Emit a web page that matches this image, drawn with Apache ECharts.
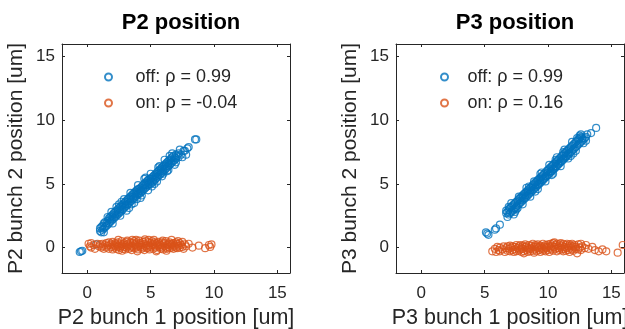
<!DOCTYPE html>
<html>
<head>
<meta charset="utf-8">
<script src="https://cdn.jsdelivr.net/npm/echarts@6/dist/echarts.min.js"></script>
<style>html,body{margin:0;padding:0;background:#fff}#c{width:625px;height:329px}</style>
</head>
<body>
<div id="c"></div>
<script>
// Tick labels (both axes, both panels)
const tickValues = [0, 5, 10, 15];
const axisMin = -2, axisMax = 16;

// Panel titles / axis names / legend labels
const titles = ['P2 position', 'P3 position'];
const xNames = ['P2 bunch 1 position [um]', 'P3 bunch 1 position [um]'];
const yNames = ['P2 bunch 2 position [um]', 'P3 bunch 2 position [um]'];
const legendP2 = ['off: \u03c1 = 0.99', 'on: \u03c1 = -0.04'];
const legendP3 = ['off: \u03c1 = 0.99', 'on: \u03c1 = 0.16'];

// P2 "off": [bunch1, bunch2]
const p2Off = [
[-0.6,-0.35],[-0.5,-0.3],[-0.4,-0.25],[0.7,0.25],
[1.0,1.3],[1.0,1.5],[1.1,1.2],[1.1,1.6],[1.2,1.4],[1.2,1.7],[1.3,1.5],[1.3,1.9],[1.4,1.6],[1.4,2.0],
[1.5,1.9],[1.5,1.7],[1.6,2.1],[1.6,1.8],[1.7,1.9],[1.7,2.3],[1.8,2.0],[1.8,2.4],[1.8,2.2],[1.9,2.5],[1.9,2.1],
[2.0,2.2],[2.0,2.6],[2.0,2.4],[2.1,2.3],[2.1,2.7],[2.2,2.8],[2.2,2.4],[2.2,2.6],[2.3,2.5],[2.3,2.9],
[2.4,2.6],[2.4,3.0],[2.4,2.8],[2.5,3.1],[2.5,2.7],[2.6,2.8],[2.6,3.2],[2.6,3.0],[2.7,2.9],[2.7,3.3],
[2.8,3.4],[2.8,3.0],[2.8,3.2],[2.9,3.1],[2.9,3.5],[3.0,3.2],[3.0,3.6],[3.0,3.4],[3.1,3.7],[3.1,3.3],
[3.2,3.4],[3.2,3.8],[3.2,3.6],[3.3,3.5],[3.3,3.9],[3.4,4.0],[3.4,3.6],[3.4,3.8],[3.5,3.7],[3.5,4.1],
[3.6,3.8],[3.6,4.2],[3.6,4.0],[3.7,4.3],[3.7,3.9],[3.8,4.0],[3.8,4.4],[3.8,4.2],[3.9,4.1],[3.9,4.5],
[4.0,4.6],[4.0,4.2],[4.0,4.3],[4.1,4.2],[4.1,4.6],[4.2,4.3],[4.2,4.7],[4.2,4.5],[4.3,4.8],[4.3,4.4],
[4.4,4.5],[4.4,4.9],[4.4,4.7],[4.5,4.6],[4.5,5.0],[4.6,5.1],[4.6,4.7],[4.6,4.9],[4.7,4.8],[4.7,5.2],
[4.8,4.9],[4.8,5.3],[4.8,5.1],[4.9,5.4],[4.9,5.0],[5.0,5.0],[5.0,5.4],[5.0,5.2],[5.1,5.1],[5.1,5.5],
[5.2,5.6],[5.2,5.2],[5.2,5.4],[5.3,5.3],[5.3,5.7],[5.4,5.4],[5.4,5.8],[5.4,5.6],[5.5,5.9],[5.5,5.5],
[5.6,5.6],[5.6,6.0],[5.6,5.8],[5.7,5.7],[5.7,6.1],[5.8,6.2],[5.8,5.8],[5.8,6.0],[5.9,5.9],[5.9,6.3],
[6.0,6.0],[6.0,6.4],[6.0,6.2],[6.1,6.5],[6.1,6.1],[6.2,6.2],[6.2,6.6],[6.2,6.4],[6.3,6.3],[6.3,6.7],
[6.4,6.8],[6.4,6.4],[6.4,6.6],[6.5,6.5],[6.5,6.9],[6.6,6.6],[6.6,7.0],[6.6,6.8],[6.7,7.1],[6.7,6.7],
[6.8,6.8],[6.8,7.2],[6.9,6.9],[6.9,7.1],[7.0,7.0],[7.0,7.3],[7.1,7.2],[7.2,7.4],[7.2,7.1],[7.4,7.3],
[7.6,7.6],[7.9,7.8],[8.0,7.9],[8.5,8.5],[8.6,8.5],
[1.3,1.2],[1.6,2.4],[2.0,1.9],[2.3,3.2],[2.6,2.5],[2.9,3.8],[3.1,2.9],[3.4,4.3],[3.7,3.5],[4.0,4.9],
[4.2,3.9],[4.5,5.4],[4.8,4.5],[5.0,5.8],[5.3,5.0],[5.6,6.3],[5.9,5.6],[6.1,6.9],[6.4,6.1],[6.7,7.4],
[7.0,6.7],[7.3,7.7],[2.5,3.4],[3.5,3.4],[4.6,5.5],[5.5,5.2],[6.5,7.2],[6.9,6.5],[1.9,2.8],[3.9,3.8],
[5.1,4.8],[6.3,6.0],[7.5,7.1],[7.7,7.6],[7.8,7.3],[2.7,3.6],[4.3,4.1],[5.7,6.4],[3.3,3.1],[6.0,5.8]
];

// P2 "on"
const p2On = [
[0.1,0.3],[0.2,0.1],[0.3,0.35],[0.3,0.0],[0.5,0.2],[0.6,-0.1],[0.8,0.3],[0.9,0.1],[1.0,0.25],[1.1,0.0],
[1.2,0.3],[1.2,0.1],[1.3,-0.1],[1.4,0.2],[1.5,0.35],[1.5,0.0],[1.6,0.15],[1.7,0.4],[1.7,-0.1],[1.8,0.2],
[1.9,0.05],[1.9,0.3],[2.0,0.45],[2.0,-0.15],[2.1,0.2],[2.1,0.0],[2.2,0.35],[2.2,0.1],[2.3,-0.1],[2.3,0.25],
[2.4,0.4],[2.4,0.05],[2.5,0.15],[2.5,-0.2],[2.6,0.3],[2.6,0.0],[2.7,0.5],[2.7,0.1],[2.8,-0.1],[2.8,0.25],
[2.9,0.35],[2.9,0.05],[3.0,0.2],[3.0,-0.15],[3.1,0.45],[3.1,0.0],[3.2,0.1],[3.2,0.3],[3.3,-0.1],[3.3,0.2],
[3.4,0.4],[3.4,0.0],[3.5,0.15],[3.5,-0.2],[3.6,0.35],[3.6,0.05],[3.7,0.5],[3.7,-0.05],[3.8,0.2],[3.8,0.3],
[3.9,0.0],[3.9,0.4],[4.0,0.1],[4.0,-0.15],[4.1,0.55],[4.1,0.25],[4.2,0.05],[4.2,0.35],[4.3,-0.1],[4.3,0.2],
[4.4,0.45],[4.4,0.0],[4.5,0.3],[4.5,-0.2],[4.6,0.1],[4.6,0.5],[4.7,0.2],[4.7,-0.05],[4.8,0.4],[4.8,0.0],
[4.9,0.15],[4.9,-0.15],[5.0,0.35],[5.0,0.05],[5.1,0.5],[5.1,0.2],[5.2,-0.1],[5.2,0.3],[5.3,0.1],[5.3,0.4],
[5.4,0.0],[5.4,0.25],[5.5,-0.2],[5.5,0.35],[5.6,0.15],[5.6,0.45],[5.7,0.05],[5.7,0.3],[5.8,-0.1],[5.8,0.2],
[5.9,0.4],[5.9,0.0],[6.0,0.25],[6.0,-0.15],[6.1,0.1],[6.1,0.35],[6.2,0.5],[6.2,0.0],[6.3,0.2],[6.3,-0.1],
[6.4,0.3],[6.4,0.05],[6.5,0.4],[6.5,-0.05],[6.6,0.15],[6.6,0.3],[6.7,0.0],[6.7,0.25],[6.8,0.35],[6.8,-0.1],
[6.9,0.1],[6.9,0.2],[7.0,0.4],[7.0,0.0],[7.1,-0.05],[7.1,0.3],[7.2,0.15],[7.3,0.35],[7.3,0.0],[7.4,0.2],
[7.5,0.45],[7.5,0.05],[7.6,-0.1],[7.7,0.25],[7.8,0.1],[8.0,0.3],[8.3,0.0],[8.8,0.15],[9.3,-0.05],[9.6,0.2],
[9.7,0.05],[9.8,0.25],
[2.45,0.6],[3.15,0.55],[3.85,0.6],[4.55,0.65],[5.25,0.6],[5.95,0.55],[6.65,0.6],[2.75,-0.25],[3.95,-0.3],[5.45,-0.3],
[6.25,-0.25],[4.85,0.6],[3.55,0.6],[7.15,0.5]
];

// P3 "off"
const p3Off = [
[5.1,1.2],[5.2,1.1],[5.3,1.0],[5.8,1.4],[5.9,1.5],[6.2,1.8],
[6.7,2.7],[6.7,2.9],[6.8,2.8],[6.9,3.0],[6.9,2.6],[7.0,2.7],[7.0,3.1],[7.1,3.2],[7.1,2.8],[7.2,2.9],[7.2,3.3],
[7.3,3.4],[7.3,3.0],[7.3,2.6],[7.4,3.1],[7.4,3.5],[7.5,3.6],[7.5,3.2],[7.6,3.3],[7.6,3.7],[7.7,3.8],[7.7,3.4],
[7.8,3.5],[7.8,3.9],[7.8,3.7],[7.9,4.0],[7.9,3.6],[8.0,3.7],[8.0,4.1],[8.0,3.9],[8.1,4.2],[8.1,3.8],
[8.2,3.9],[8.2,4.3],[8.2,4.1],[8.3,4.4],[8.3,4.0],[8.4,4.1],[8.4,4.5],[8.4,4.3],[8.5,4.6],[8.5,4.2],
[8.6,4.3],[8.6,4.7],[8.6,4.5],[8.7,4.8],[8.7,4.4],[8.8,4.5],[8.8,4.9],[8.8,4.7],[8.9,5.0],[8.9,4.6],
[9.0,4.7],[9.0,5.1],[9.0,4.9],[9.1,5.2],[9.1,4.8],[9.2,4.9],[9.2,5.3],[9.2,5.0],[9.3,5.4],[9.3,5.0],
[9.4,5.1],[9.4,5.5],[9.4,5.3],[9.5,5.6],[9.5,5.2],[9.6,5.3],[9.6,5.7],[9.6,5.4],[9.7,5.8],[9.7,5.4],
[9.8,5.5],[9.8,5.9],[9.8,5.6],[9.9,6.0],[9.9,5.6],[10.0,5.7],[10.0,6.1],[10.0,5.9],[10.1,6.2],[10.1,5.8],
[10.2,5.9],[10.2,6.3],[10.2,6.0],[10.3,6.4],[10.3,6.0],[10.4,6.1],[10.4,6.5],[10.4,6.2],[10.5,6.6],[10.5,6.2],
[10.6,6.3],[10.6,6.7],[10.6,6.4],[10.7,6.8],[10.7,6.4],[10.8,6.5],[10.8,6.9],[10.8,6.6],[10.9,7.0],[10.9,6.6],
[11.0,6.7],[11.0,7.1],[11.0,6.8],[11.1,7.2],[11.1,6.8],[11.2,6.9],[11.2,7.3],[11.2,7.0],[11.3,7.4],[11.3,7.0],
[11.4,7.1],[11.4,7.5],[11.4,7.2],[11.5,7.6],[11.5,7.2],[11.6,7.3],[11.6,7.7],[11.6,7.4],[11.7,7.8],[11.7,7.4],
[11.8,7.5],[11.8,7.9],[11.9,8.0],[11.9,7.6],[12.0,7.7],[12.0,8.1],[12.1,8.2],[12.1,7.8],[12.2,7.9],[12.2,8.3],
[12.3,8.4],[12.3,8.0],[12.4,8.1],[12.4,8.5],[12.5,8.6],[12.5,8.2],[12.6,8.3],[12.6,8.7],[12.7,8.6],[12.7,8.4],
[12.8,8.5],[12.9,8.6],[13.0,8.7],[13.4,9.0],[13.8,9.4],
[6.8,2.4],[7.1,3.5],[7.4,2.8],[7.7,4.0],[8.0,3.4],[8.3,4.7],[8.6,4.0],[8.9,5.2],[9.2,4.6],[9.5,5.9],
[9.8,5.2],[10.1,6.5],[10.4,5.8],[10.7,7.1],[11.0,6.4],[11.3,7.7],[11.6,7.0],[11.9,8.3],[12.2,7.6],[12.5,8.8],
[12.8,8.2],[13.1,8.9],[7.5,3.0],[8.5,4.8],[9.4,5.8],[10.3,5.7],[11.2,7.5],[12.0,7.4],[12.6,8.9],[13.0,8.4],
[6.9,3.2],[7.6,3.1],[9.0,4.4],[10.6,6.9],[11.8,7.2],[12.3,8.6]
];

// P3 "on"
const p3On = [
[5.6,-0.3],[5.8,-0.1],[5.9,-0.35],[6.0,0.05],[6.1,-0.2],[6.2,-0.3],[6.2,0.0],[6.4,-0.15],[6.5,0.1],[6.6,-0.35],
[6.7,-0.05],[6.8,0.1],[6.8,-0.25],[6.9,-0.1],[7.0,0.15],[7.0,-0.3],[7.1,0.0],[7.2,-0.2],[7.2,0.1],[7.3,-0.35],
[7.4,0.05],[7.4,-0.15],[7.5,0.2],[7.5,-0.3],[7.6,-0.05],[7.7,0.1],[7.7,-0.25],[7.8,-0.15],[7.8,0.2],[7.9,0.0],
[7.9,-0.35],[8.0,0.15],[8.0,-0.1],[8.1,-0.3],[8.1,-0.45],[8.2,0.05],[8.2,0.25],[8.3,-0.2],[8.3,0.1],[8.4,-0.05],
[8.4,-0.35],[8.5,0.2],[8.5,-0.15],[8.6,0.0],[8.6,-0.3],[8.7,0.15],[8.7,-0.1],[8.8,-0.25],[8.8,0.3],[8.9,0.05],
[8.9,-0.4],[9.0,-0.15],[9.0,0.2],[9.1,0.1],[9.1,-0.3],[9.2,-0.05],[9.2,0.25],[9.3,-0.2],[9.3,0.05],[9.4,0.15],
[9.4,-0.35],[9.5,0.0],[9.5,-0.1],[9.6,0.3],[9.6,-0.25],[9.7,0.1],[9.7,-0.15],[9.8,-0.3],[9.8,0.2],[9.9,0.05],
[9.9,-0.05],[10.0,0.25],[10.0,-0.2],[10.1,-0.35],[10.1,0.1],[10.2,0.0],[10.2,0.3],[10.3,-0.15],[10.3,0.15],[10.4,0.35],
[10.4,-0.25],[10.5,0.05],[10.5,0.4],[10.6,-0.1],[10.6,0.2],[10.7,0.3],[10.7,-0.3],[10.8,0.1],[10.8,-0.05],[10.9,0.25],
[10.9,-0.2],[11.0,0.0],[11.0,0.35],[11.1,-0.15],[11.1,0.15],[11.2,0.3],[11.2,-0.3],[11.3,0.05],[11.3,-0.1],[11.4,0.2],
[11.4,-0.25],[11.5,-0.05],[11.5,0.3],[11.6,0.1],[11.6,-0.2],[11.7,0.25],[11.7,-0.35],[11.8,0.0],[11.8,0.15],[11.9,-0.15],
[11.9,0.3],[12.0,0.1],[12.0,-0.25],[12.1,0.2],[12.2,-0.1],[12.2,0.05],[12.3,-0.45],[12.4,0.25],[12.4,-0.15],[12.5,0.0],
[12.6,0.3],[12.6,-0.2],[12.7,0.1],[12.9,-0.05],[13.0,0.2],[13.2,-0.1],[13.5,0.05],[13.7,-0.2],[14.0,-0.3],[14.3,-0.15],
[14.6,-0.3],[15.5,-0.4],[15.9,0.2]
];

const BLUE = '#0072BD', ORANGE = '#D95319';
const AX = '#262626';
const FONT = 'Liberation Sans, Arial, Helvetica, sans-serif';

const grids = [
  {left: 62, top: 44, width: 228, height: 229, outerBoundsMode: 'none', containLabel: false},
  {left: 396, top: 44, width: 228, height: 229, outerBoundsMode: 'none', containLabel: false}
];

const xAxes = [], yAxes = [];
for (let g = 0; g < 2; g++) {
  const base = {
    gridIndex: g, type: 'value', min: axisMin, max: axisMax,
    axisLine: {show: true, onZero: false, lineStyle: {color: AX, width: 1}},
    axisTick: {show: true, inside: true, length: 3, customValues: tickValues, lineStyle: {color: AX}},
    splitLine: {show: false}
  };
  xAxes.push(Object.assign({}, base, {
    position: 'bottom',
    name: xNames[g], nameLocation: 'middle', nameGap: 32,
    nameTextStyle: {fontFamily: FONT, fontSize: 21.5, color: AX},
    axisLabel: {show: true, customValues: tickValues, margin: 12, fontFamily: FONT, fontSize: 17, color: AX}
  }));
  xAxes.push(Object.assign({}, base, {position: 'top', axisLabel: {show: false}}));
  yAxes.push(Object.assign({}, base, {
    position: 'left',
    name: yNames[g], nameLocation: 'middle', nameGap: 35,
    nameTextStyle: {fontFamily: FONT, fontSize: 21, color: AX},
    axisLabel: {show: true, customValues: tickValues, margin: 7, fontFamily: FONT, fontSize: 17, color: AX}
  }));
  yAxes.push(Object.assign({}, base, {position: 'right', axisLabel: {show: false}}));
}

function sc(name, data, color, g) {
  return {
    type: 'scatter', name: name, xAxisIndex: 2 * g, yAxisIndex: 2 * g,
    data: data, symbol: 'circle', symbolSize: 7,
    itemStyle: {color: 'rgba(255,255,255,0)', borderColor: color, borderWidth: 1.2},
    emphasis: {disabled: true}, animation: false
  };
}

const legendCommon = {
  orient: 'vertical', padding: 0, itemGap: 8, itemHeight: 7,
  textStyle: {fontFamily: FONT, fontSize: 18, color: AX},
  selectedMode: false
};

const option = {
  animation: false,
  title: [
    {text: titles[0], left: 176, textAlign: 'center', top: 7, textStyle: {fontFamily: FONT, fontSize: 22, fontWeight: 'bold', color: '#000'}},
    {text: titles[1], left: 510, textAlign: 'center', top: 7, textStyle: {fontFamily: FONT, fontSize: 22, fontWeight: 'bold', color: '#000'}}
  ],
  legend: [
    Object.assign({}, legendCommon, {data: legendP2, left: 104, top: 68, itemWidth: 44}),
    Object.assign({}, legendCommon, {data: legendP3, left: 440, top: 68, itemWidth: 36})
  ],
  grid: grids,
  xAxis: xAxes,
  yAxis: yAxes,
  series: [
    sc(legendP2[0], p2Off, BLUE, 0),
    sc(legendP2[1], p2On, ORANGE, 0),
    sc(legendP3[0], p3Off, BLUE, 1),
    sc(legendP3[1], p3On, ORANGE, 1)
  ]
};

const chart = echarts.init(document.getElementById('c'), null, {renderer: 'canvas'});
chart.setOption(option);
</script>
</body>
</html>
